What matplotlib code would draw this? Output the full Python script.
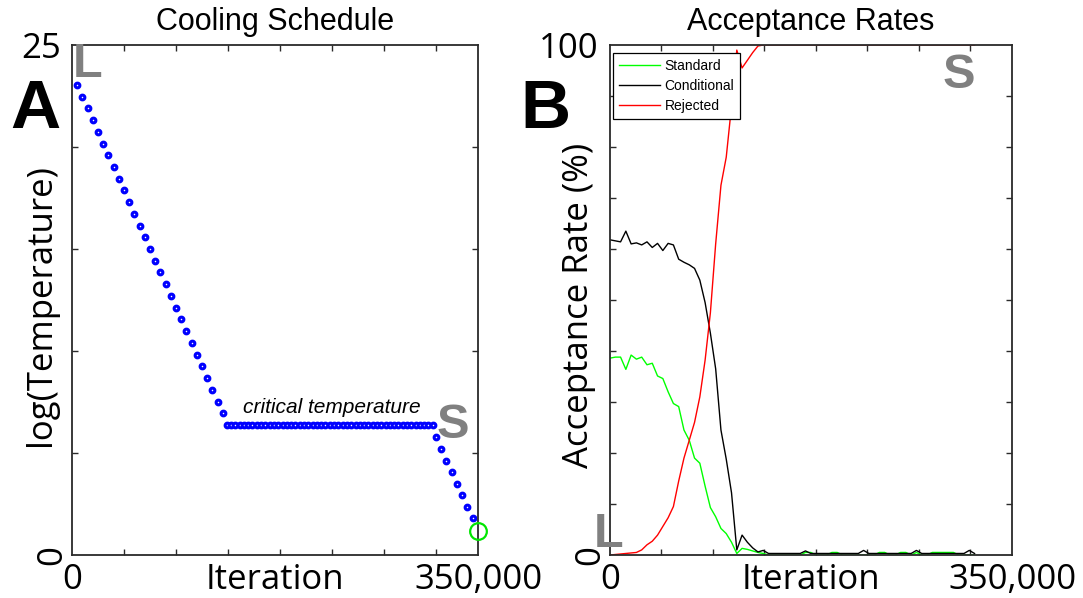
import numpy as np
import matplotlib
matplotlib.use("Agg")
import matplotlib.pyplot as plt
from matplotlib.ticker import FixedLocator

# ---------------- Panel A: cooling schedule ----------------
# log(Temperature) read at each sampled step
cool_desc_logT = [23.04, 22.47, 21.89, 21.32, 20.74, 20.17, 19.59, 19.02, 18.44, 17.87,
                  17.29, 16.72, 16.14, 15.57, 14.99, 14.42, 13.85, 13.27, 12.70, 12.12,
                  11.55, 10.97, 10.40, 9.82, 9.25, 8.67, 8.10, 7.52, 6.95]
cool_flat_logT = [6.37, 6.37, 6.37, 6.37, 6.37, 6.37, 6.37, 6.37, 6.37, 6.37,
                  6.37, 6.37, 6.37, 6.37, 6.37, 6.37, 6.37, 6.37, 6.37, 6.37,
                  6.37, 6.37, 6.37, 6.37, 6.37, 6.37, 6.37, 6.37, 6.37, 6.37,
                  6.37, 6.37, 6.37, 6.37, 6.37, 6.37, 6.37, 6.37, 6.37, 6.37,
                  6.37, 6.37, 6.37, 6.37, 6.37, 6.37, 6.37, 6.37, 6.37]
cool_end_logT = [5.77, 5.20, 4.63, 4.06, 3.49, 2.92, 2.35, 1.80]
# sampling iterations of each segment
cool_desc_iter = np.arange(4480, 4480 * 29 + 1, 4480)
cool_flat_iter = np.arange(133400, 311001, 3700)
cool_end_iter = np.arange(313800, 345301, 4500)
final_iter = [350000]
final_logT = [1.19]

# ---------------- Panel B: acceptance rates ----------------
acc_iter = np.arange(0, 4600 * 69 + 1, 4600)
standard = [38.6, 38.8, 38.8, 36.4, 39.2, 38.4, 38.8, 37.3, 37.6, 35.1,
            34.6, 32.0, 29.7, 29.1, 24.5, 22.5, 19.0, 18.0, 13.5, 9.3,
            7.5, 5.2, 4.2, 2.5, 0.3, 1.3, 1.1, 0.8, 0.5, 0.3,
            0.0, 0.0, 0.0, 0.0, 0.0, 0.0, 0.0, 0.5, 0.5, 0.0,
            0.0, 0.0, 0.5, 0.5, 0.0, 0.0, 0.0, 0.0, 0.0, 0.0,
            0.0, 0.5, 0.5, 0.0, 0.0, 0.5, 0.5, 0.0, 0.5, 0.0,
            0.0, 0.5, 0.5, 0.5, 0.5, 0.5, 0.0, 0.0, 0.0, 0.0]
conditional = [61.8, 61.6, 61.4, 63.5, 61.0, 61.2, 60.8, 61.4, 60.3, 61.1,
               59.7, 61.1, 60.8, 58.0, 57.4, 56.9, 56.2, 53.9, 49.5, 43.5,
               36.5, 24.5, 18.8, 12.2, 1.0, 3.9, 2.5, 1.4, 0.6, 0.9,
               0.3, 0.3, 0.3, 0.3, 0.3, 0.3, 0.3, 0.8, 0.3, 0.3,
               0.3, 0.3, 0.3, 0.3, 0.3, 0.3, 0.3, 0.3, 0.9, 0.3,
               0.3, 0.3, 0.3, 0.3, 0.3, 0.3, 0.3, 0.3, 0.9, 0.3,
               0.3, 0.3, 0.3, 0.3, 0.3, 0.3, 0.3, 0.3, 0.9, 0.3]
rejected = [0.0, 0.1, 0.2, 0.3, 0.4, 0.5, 1.0, 2.0, 2.7, 3.9,
            5.6, 7.3, 9.5, 14.5, 19.0, 22.5, 26.0, 31.0, 38.2, 47.5,
            61.0, 72.5, 78.0, 88.0, 99.0, 95.5, 97.0, 98.5, 99.8, 100.0,
            100.0, 100.0, 100.0, 100.0, 100.0, 100.0, 100.0, 100.0, 100.0, 100.0,
            100.0, 100.0, 100.0, 100.0, 100.0, 100.0, 100.0, 100.0, 100.0, 100.0,
            100.0, 100.0, 100.0, 100.0, 100.0, 100.0, 100.0, 100.0, 100.0, 100.0,
            100.0, 100.0, 100.0, 100.0, 100.0, 100.0, 100.0, 100.0, 100.0, 100.0]
series_names = ["Standard", "Conditional", "Rejected"]

x_tick_labels = ["0", "Iteration", "350,000"]
x_max = 350000
minor_x = np.arange(44800, 340000, 44800)

W, H = 1083, 598
fig = plt.figure(figsize=(W / 100, H / 100), dpi=100)
axA = fig.add_axes([72 / W, 43 / H, 406 / W, 510 / H])
axB = fig.add_axes([610 / W, 43 / H, 402 / W, 510 / H])

LABEL_FONT = "Open Sans"
TICK_FS = 25
spine_c = "#2a2a2a"
gray = "#808080"


def style(ax, ymax, yminor, ylabel, title):
    ax.set_xlim(0, x_max)
    ax.set_ylim(0, ymax)
    for s in ax.spines.values():
        s.set_color(spine_c)
        s.set_linewidth(1.3)
    ax.set_xticks([0, x_max / 2, x_max])
    ax.set_xticklabels(x_tick_labels, fontfamily=LABEL_FONT, fontsize=TICK_FS)
    ax.xaxis.set_minor_locator(FixedLocator(minor_x))
    ax.set_yticks([0, ymax])
    ax.set_yticklabels(["", str(ymax)], fontfamily=LABEL_FONT, fontsize=TICK_FS)
    ax.yaxis.set_minor_locator(FixedLocator(yminor))
    ax.tick_params(axis="x", which="major", length=0, pad=6)
    ax.tick_params(axis="y", which="major", length=0, pad=8)
    ax.tick_params(which="minor", direction="in", length=4, width=1.0,
                   color=spine_c, top=True, right=True)
    ax.set_ylabel(ylabel, fontfamily=LABEL_FONT, fontsize=TICK_FS)
    ax.yaxis.set_label_coords(-0.035, 0.49)
    ax.set_title(title, fontfamily="Liberation Sans", fontsize=22, pad=11)
    # rotated zero on the y axis
    ax.text(-0.006, 0.0, "0", transform=ax.transAxes, rotation=90,
            ha="right", va="center", fontfamily=LABEL_FONT, fontsize=TICK_FS,
            clip_on=False)


# ---- Panel A ----
style(axA, 25, [5, 10, 15, 20], "log(Temperature)", "Cooling Schedule")
for xs, ys in [(cool_desc_iter, cool_desc_logT), (cool_flat_iter, cool_flat_logT),
               (cool_end_iter, cool_end_logT)]:
    axA.plot(xs, ys, linestyle="none", marker="o", markersize=3.4,
             markeredgewidth=2.2, markeredgecolor="#0000ff",
             markerfacecolor="white", clip_on=False)
axA.plot(final_iter, final_logT, linestyle="none", marker="o", markersize=12,
         markeredgewidth=1.6, markeredgecolor="#00e600", markerfacecolor="none",
         clip_on=False, zorder=5)
axA.text(0.64, 0.278, "critical temperature", transform=axA.transAxes,
         ha="center", va="baseline", fontsize=15, style="italic",
         fontfamily="Liberation Sans")
axA.text(0.003, 0.937, "L", transform=axA.transAxes, ha="left", va="baseline",
         fontsize=35, fontweight="bold", color=gray, fontfamily="Liberation Sans")
axA.text(0.938, 0.229, "S", transform=axA.transAxes, ha="center", va="baseline",
         fontsize=35, fontweight="bold", color=gray, fontfamily="Liberation Sans")

# ---- Panel B ----
style(axB, 100, [10, 20, 30, 40, 50, 60, 70, 80, 90], "Acceptance Rate (%)",
      "Acceptance Rates")
colors = ["#00ff00", "#000000", "#ff0000"]
for vals, name, c in zip([standard, conditional, rejected], series_names, colors):
    axB.plot(acc_iter, vals, color=c, linewidth=1.0, label=name)
leg = axB.legend(loc="upper left", bbox_to_anchor=(0.0075, 0.984),
                 borderaxespad=0, fancybox=False, framealpha=1,
                 edgecolor="black", prop={"family": "Liberation Sans", "size": 10},
                 handlelength=3.0, handletextpad=0.3, borderpad=0.4,
                 labelspacing=0.45)
leg.get_frame().set_linewidth(0.9)
axB.text(0.868, 0.916, "S", transform=axB.transAxes, ha="center", va="baseline",
         fontsize=35, fontweight="bold", color=gray, fontfamily="Liberation Sans")
axB.text(-0.04, 0.016, "L", transform=axB.transAxes, ha="left", va="baseline",
         fontsize=35, fontweight="bold", color=gray, fontfamily="Liberation Sans",
         clip_on=False)

# ---- panel letters ----
fig.text(10 / W, (H - 128) / H, "A", fontsize=50, fontweight="bold",
         fontfamily="Liberation Sans", ha="left", va="baseline")
fig.text(520 / W, (H - 128) / H, "B", fontsize=50, fontweight="bold",
         fontfamily="Liberation Sans", ha="left", va="baseline")

fig.savefig("out.png", dpi=100, facecolor="white")
